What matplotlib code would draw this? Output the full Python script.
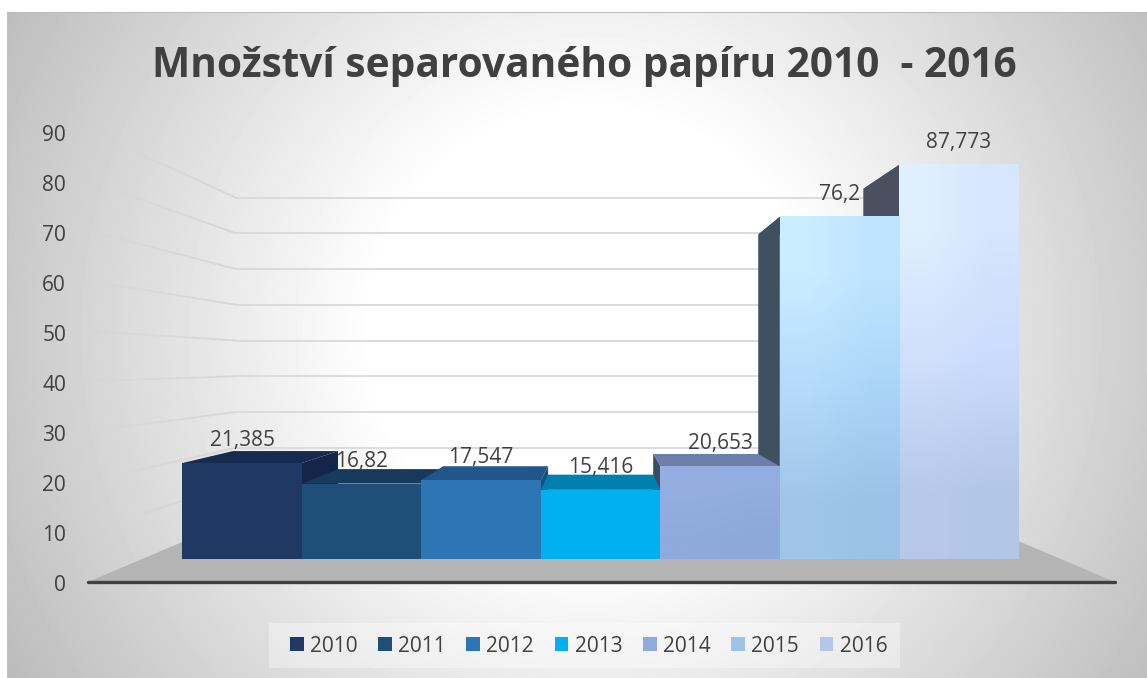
import numpy as np
from matplotlib import pyplot as plt
from matplotlib.collections import LineCollection
from matplotlib.colors import to_rgb
from matplotlib.patches import Patch, Polygon, Rectangle

plt.rcParams['font.family'] = ['Open Sans', 'DejaVu Sans']

title = 'Množství separovaného papíru 2010  - 2016'
years = ['2010', '2011', '2012', '2013', '2014', '2015', '2016']
values = [21.385, 16.82, 17.547, 15.416, 20.653, 76.2, 87.773]
value_labels = ['21,385', '16,82', '17,547', '15,416', '20,653', '76,2', '87,773']
y_ticks = [0, 10, 20, 30, 40, 50, 60, 70, 80, 90]

front_colors = ['#1F3864', '#1F4E79', '#2E75B6', '#00B0F0', '#8FAADC', '#9DC3E6', '#B4C7E7']
top_colors = ['#172B50', '#17395C', '#22558A', '#0080B0', '#6C7FA8', '#3F5060', '#4A5060']
side_colors = ['#14254A', '#14304F', '#1F4C7A', '#006F99', '#3B4A66', '#3F5060', '#4A5060']
text_color = '#404040'

# face gradients of the tall bars, rows top to bottom, columns left to right
gradients = {
    4: [['#94AEE0', '#92ADDF'], ['#8FAADC', '#8DA9DB']],
    5: [['#C9EDFF', '#BFE4FF'], ['#B5DAFB', '#ABD5F8'], ['#A0C5E8', '#9BC2E6']],
    6: [['#E0EFFE', '#D6E6FD'], ['#CFDFFC', '#CBDBFC'], ['#B6C9E9', '#B2C6E6']],
}

# perspective of the chart box, in pixels
W, H = 1147, 678
VP_X, VP_Y = 601, 364
PLANE_LEFT, PLANE_RIGHT = 88, 1115
PLANE_Y0 = 582
UNIT = 5.02
BAR_X0 = 133.3
BAR_STEP = 133.5
BAR_FRONT = 0.105
BAR_BACK = 0.213
WALL = 0.288


def project(x, value, depth):
    px = x + (VP_X - x) * depth
    py = PLANE_Y0 - value * UNIT
    return px, py + (VP_Y - py) * depth


fig = plt.figure(figsize=(W / 100, H / 100), dpi=100)
ax = fig.add_axes([0, 0, 1, 1])
ax.axis('off')

# background
xx, yy = np.meshgrid(np.arange(7, W, 2), np.arange(12, H, 2))
dist = np.hypot(xx - 590, yy - 330)
shade = np.clip(255 - (dist - 220) * 0.148, 0, 255) / 255
ax.imshow(shade, cmap='gray', vmin=0, vmax=1, extent=(7, W, H, 12), aspect='auto', zorder=0)
ax.plot([7, W], [12, 12], color='#BDBDBD', lw=0.8, zorder=1)
ax.plot([7, 7], [12, H], color='#C4C4C4', lw=0.8, zorder=1)

# grid on the side wall and back wall
for tick in y_ticks[1:]:
    start = np.array(project(PLANE_LEFT, tick, 0))
    corner = np.array(project(PLANE_LEFT, tick, WALL))
    steps = np.linspace(0, 1, 31)
    pts = start + (corner - start) * steps[:, None]
    segs = np.stack([pts[:-1], pts[1:]], axis=1)
    rgba = np.zeros((30, 4))
    rgba[:, :3] = to_rgb('#D6D6D6')
    rgba[:, 3] = steps[1:] ** 0.6
    ax.add_collection(LineCollection(segs, colors=rgba, linewidths=1.3, zorder=2))
    end = project(PLANE_RIGHT, tick, WALL)
    ax.plot([corner[0], end[0]], [corner[1], end[1]], color='#D9D9D9', lw=1.3, zorder=2)

# floor
floor = [project(PLANE_LEFT, 0, 0), project(PLANE_RIGHT, 0, 0),
         project(PLANE_RIGHT, 0, WALL), project(PLANE_LEFT, 0, WALL)]
ax.add_patch(Polygon(floor, closed=True, facecolor='#B4B4B4', edgecolor='none', zorder=3))
ax.plot([PLANE_LEFT, PLANE_RIGHT], [PLANE_Y0, PLANE_Y0], color=text_color, lw=2.4,
        solid_capstyle='round', zorder=4)

# bars, outer ones first so the neighbours cover their hidden sides
z = 5
for i in [0, 1, 2, 6, 5, 4, 3]:
    x0 = BAR_X0 + i * BAR_STEP
    x1 = x0 + BAR_STEP
    v = values[i]
    top = [project(x0, v, BAR_FRONT), project(x1, v, BAR_FRONT),
           project(x1, v, BAR_BACK), project(x0, v, BAR_BACK)]
    ax.add_patch(Polygon(top, closed=True, facecolor=top_colors[i], edgecolor='none', zorder=z))
    z += 1
    if x1 < VP_X or x0 > VP_X:
        sx = x1 if x1 < VP_X else x0
        side = [project(sx, v, BAR_FRONT), project(sx, v, BAR_BACK),
                project(sx, 0, BAR_BACK), project(sx, 0, BAR_FRONT)]
        ax.add_patch(Polygon(side, closed=True, facecolor=side_colors[i], edgecolor='none', zorder=z))
        z += 1
    left, ytop = project(x0, v, BAR_FRONT)
    right, ybase = project(x1, 0, BAR_FRONT)
    if i in gradients:
        grid = np.array([[to_rgb(c) for c in row] for row in gradients[i]])
        ax.imshow(grid, extent=(left, right, ybase, ytop), aspect='auto',
                  interpolation='bilinear', zorder=z)
    else:
        ax.add_patch(Rectangle((left, ytop), right - left, ybase - ytop,
                               facecolor=front_colors[i], edgecolor='none', zorder=z))
    z += 1

# value labels
for i, label in enumerate(value_labels):
    left, ytop = project(BAR_X0 + i * BAR_STEP, values[i], BAR_FRONT)
    right, _ = project(BAR_X0 + (i + 1) * BAR_STEP, values[i], BAR_FRONT)
    ax.text((left + right) / 2, ytop - 17, label, ha='center', va='baseline',
            fontsize=15, color=text_color, zorder=40)

# y tick labels
for tick in y_ticks:
    ax.text(66, PLANE_Y0 + 9 - tick * 5, str(tick), ha='right', va='baseline',
            fontsize=15, color=text_color, zorder=40)

ax.text(584.5, 77, title, ha='center', va='baseline', fontsize=29.25, fontweight='bold',
        color=text_color, zorder=40)

# legend band
ax.add_patch(Rectangle((269, 623), 631, 45, facecolor='white', alpha=0.35, edgecolor='none', zorder=39))
handles = [Patch(facecolor=c, edgecolor='none') for c in front_colors]
leg = ax.legend(handles, years, ncol=7, loc='center', bbox_to_anchor=(588.5, 646),
                bbox_transform=ax.transData, fontsize=15, frameon=False,
                handlelength=0.67, handleheight=0.67, handletextpad=0.3, columnspacing=0.98,
                labelcolor=text_color, borderpad=0, borderaxespad=0)
leg.set_zorder(40)

ax.set_xlim(0, W)
ax.set_ylim(H, 0)
fig.savefig('out.png', dpi=100, facecolor='white')
